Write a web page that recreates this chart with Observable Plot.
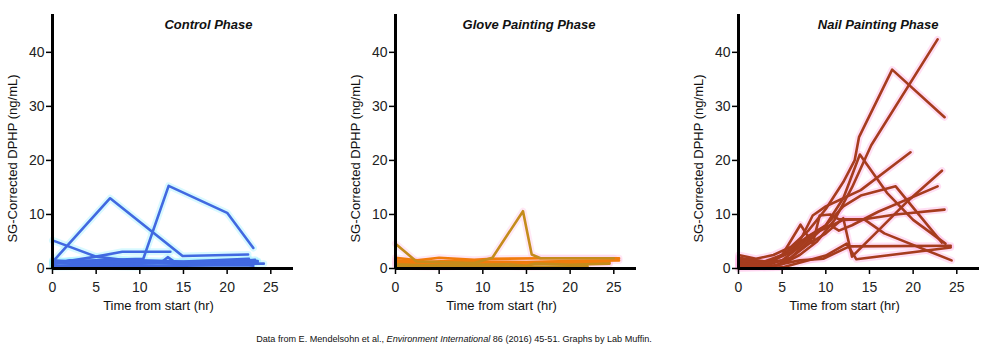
<!DOCTYPE html>
<html>
<head>
<meta charset="utf-8">
<script src="https://cdn.jsdelivr.net/npm/d3@7"></script>
<script src="https://cdn.jsdelivr.net/npm/@observablehq/plot@0.6"></script>
<style>
  html, body { margin: 0; padding: 0; background: #fff; }
  #wrap { position: relative; width: 1000px; height: 354px; overflow: hidden; }
  #row { display: flex; flex-direction: row; }
  #caption { position: absolute; left: 0; width: 908px; top: 334px; text-align: center;
    font-family: "Liberation Sans", Arial, sans-serif; font-size: 9.1px; color: #111; }
</style>
</head>
<body>
<div id="wrap">
  <div id="row"></div>
  <div id="caption">Data from E. Mendelsohn et al., <i>Environment International</i> 86 (2016) 45-51. Graphs by Lab Muffin.</div>
</div>
<script>
// ---- Data (time from start in hr, SG-corrected DPHP in ng/mL) ----
const xTicks = [0, 5, 10, 15, 20, 25];
const yTicks = [0, 10, 20, 30, 40];
const panelTitles = ["Control Phase", "Glove Painting Phase", "Nail Painting Phase"];
const yLabel = "SG-Corrected DPHP (ng/mL)";
const xLabel = "Time from start (hr)";

const controlSeries = [
  [[0,1.2],[6.6,13],[14.9,2.3],[22.4,2.6]],
  [[0,1.3],[5,1.5],[10.4,1.8],[13.3,15.3],[20,10.3],[23,3.8]],
  [[0,5.2],[5,2.2],[10,1.2],[15,1],[23.5,1.2]],
  [[0,0.9],[5,2.2],[8,3.1],[13.5,3.1]],
  [[0,0.8],[2,1.5],[5,1.2],[10,1],[12.5,1.2],[13.2,2.1],[14,1.2],[23.5,1.4]],
  [[0,0.5],[3,0.5],[8,0.6],[12,0.5],[16,0.7],[24.2,0.9]],
  [[0,1],[4,0.8],[9,0.9],[14,1],[20,1.1],[23.2,1.6]],
  [[0,0.3],[5,0.4],[10,0.3],[15,0.5],[22,0.6],[23,0.5]],
  [[0,1.5],[5,1],[10,1.5],[15,1.3],[22.5,1.8]]
];
const controlColors = Array(controlSeries.length).fill("#4169e1");

const gloveSeries = [
  [[0,2],[2.5,1.5],[5,2],[9,1.6],[11,1.8],[17,1.9],[25.6,1.9]],
  [[0,1.5],[3,1.2],[6,1.4],[10,1.3],[15,1.2],[20,1.4],[25.6,1.5]],
  [[0,1.2],[4,1],[8,1.1],[12,1],[18,1.2],[24.5,1.3]],
  [[0,0.9],[5,0.8],[11,0.9],[14,0.7],[19,1],[24.5,1]],
  [[0,0.8],[3,0.6],[8,0.7],[13,0.8],[15,0.5],[16,0.9],[20,0.7],[24.5,0.9]],
  [[0,0.4],[5,0.3],[10,0.5],[15,0.3],[22,0.4]],
  [[0,4.6],[2.4,1.3],[5,1.2],[9,1],[11.1,2],[14.6,10.6],[15.6,2.6],[16.6,1.9],[25,1.9]]
];
const gloveColors = ["#f07c0c", "#f07c0c", "#f07c0c", "#f07c0c", "#c48c1c", "#c48c1c", "#c48c1c"];

const nailSeries = [
  [[0,2.5],[2,1.8],[4,2.5],[6,4],[8,7],[10,11],[12,16],[13.3,20],[13.8,24.3],[17.6,36.8],[23.6,28]],
  [[0,0.3],[3,0.3],[5,0.8],[7,2.5],[9,5],[11,9],[13,15],[15.2,22.8],[22.8,42.4]],
  [[0,1.8],[2.5,1.2],[4,1.5],[6,3.5],[8,6],[10,8],[12,13],[13.9,21.1],[17,14],[20,9],[23.7,4.6]],
  [[0,1.2],[3,1],[5,2.5],[7,5],[8.5,9.8],[10,11.5],[12,13],[14,14.5],[19.7,21.5]],
  [[0,0.5],[4,0.3],[6,2],[8,4.5],[10,6.5],[12,9.3],[13,2.2],[16,7],[19.2,12.2],[23.3,18.1]],
  [[0,0],[5,0.2],[10,2.4],[12.4,4.6],[13.5,1.7],[24.3,3.9]],
  [[0,0.8],[4,0.5],[7,1.5],[9.7,1.8],[12.7,4.1],[24.3,4.2]],
  [[0,2],[3,1.3],[5,2.5],[7.1,8.1],[8.5,4.6],[9.3,9.8],[10.5,10],[11.5,9.1],[14.4,9.1],[18,10],[23.6,10.9]],
  [[0,1],[3,0.8],[6,3],[8,6],[10,7.5],[12,9],[14.4,9.1],[16.7,6.5],[24.4,1.5]],
  [[0,0.5],[3,0.5],[6,2],[8,5],[10,8],[12,11.5],[14,13.5],[18,15.2],[23.3,4.8]],
  [[0,1.5],[3,1],[5,1.5],[7,4],[9,7],[10.5,8],[11.5,7],[13,8],[16,10.5],[22.8,15.2]]
];
const nailColors = Array(nailSeries.length).fill("#a63c1e");

// ---- Drawing ----
const FONT = "'Liberation Sans', Arial, Helvetica, sans-serif";

function panel({series, colors, halo, title, width, marginRight}) {
  const rows = series.flatMap((pts, i) => pts.map(([t, v]) => ({s: i, t, v, c: colors[i]})));
  return Plot.plot({
    width, height: 315,
    marginLeft: 52, marginRight, marginTop: 14, marginBottom: 47,
    style: {fontFamily: FONT, fontSize: "14px", color: "#222", background: "white", overflow: "visible"},
    color: {type: "identity"},
    x: {domain: [0, 27.6], label: null},
    y: {domain: [0, 47], label: null},
    marks: [
      Plot.line(rows, {x: "t", y: "v", z: "s", stroke: halo, strokeWidth: 7, strokeOpacity: 0.45}),
      Plot.line(rows, {x: "t", y: "v", z: "s", stroke: "c", strokeWidth: 2.6}),
      Plot.axisX({ticks: xTicks, tickSize: 6, tickPadding: 8, stroke: "#000", strokeWidth: 1.5, label: null, fontSize: 14}),
      Plot.axisY({ticks: yTicks, tickSize: 6, tickPadding: 2, stroke: "#000", strokeWidth: 1.5, label: null, fontSize: 14}),
      Plot.ruleY([0], {stroke: "#000", strokeWidth: 3}),
      Plot.ruleX([0], {stroke: "#000", strokeWidth: 3}),
      Plot.text([title], {text: d => d, frameAnchor: "top-left", textAnchor: "end", lineAnchor: "middle",
        dx: 200, dy: 10, fontWeight: "bold", fontStyle: "italic", fontSize: 13, fill: "#111"}),
      Plot.text([yLabel], {text: d => d, frameAnchor: "left", rotate: -90, textAnchor: "middle", lineAnchor: "middle",
        dx: -40, dy: 17, fontSize: 13, fill: "#111"}),
      Plot.text([xLabel], {text: d => d, frameAnchor: "bottom", textAnchor: "middle", lineAnchor: "middle",
        dx: -14.5, dy: 37, fontSize: 13, fill: "#111"})
    ]
  });
}

const row = document.getElementById("row");
row.append(panel({series: controlSeries, colors: controlColors, halo: "#a8f2ff", title: panelTitles[0], width: 343, marginRight: 50}));
row.append(panel({series: gloveSeries, colors: gloveColors, halo: "#ffcce8", title: panelTitles[1], width: 343, marginRight: 50}));
row.append(panel({series: nailSeries, colors: nailColors, halo: "#ffb8e6", title: panelTitles[2], width: 314, marginRight: 21}));
</script>
</body>
</html>
